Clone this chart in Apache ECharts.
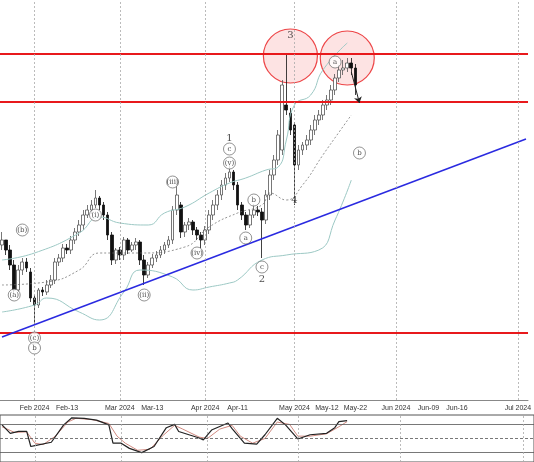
<!DOCTYPE html>
<html>
<head>
<meta charset="utf-8">
<script src="https://cdn.jsdelivr.net/npm/echarts@6/dist/echarts.min.js"></script>
<style>html,body{margin:0;padding:0;background:#fff}#main{width:534px;height:462px}</style>
</head>
<body>
<div id="main"></div>
<script>
// 蜡烛数据 (开/收/低/高)
var opens = [155,160,150,135,110,130,138,128,102,95,110,108,115,120,138,142,152,150,160,168,175,185,190,195,202,195,185,165,140,150,145,160,150,155,158,140,125,135,142,145,150,155,160,190,195,168,175,178,170,165,160,170,185,195,205,215,222,228,215,195,185,175,185,190,188,180,205,225,240,250,295,287,275,235,250,255,260,270,280,285,295,300,310,322,330,332,337,332];
var closes = [160,150,135,110,130,138,132,102,95,110,108,115,120,138,142,152,150,160,168,175,185,190,195,202,195,185,165,140,150,145,160,150,155,158,140,125,135,142,145,150,155,160,190,205,168,175,178,170,165,160,170,185,195,205,215,222,228,215,195,185,175,185,190,188,180,205,225,240,265,315,290,270,235,250,255,260,270,280,285,295,300,310,322,330,332,337,332,315];
var highs = [168,158,155,140,135,142,142,132,105,112,113,120,125,142,146,156,156,164,172,180,190,195,200,210,204,198,188,168,152,153,163,162,158,162,160,145,138,146,149,154,158,164,194,222,198,178,182,180,173,168,174,190,200,210,220,227,235,230,218,198,188,190,196,194,192,210,230,245,270,320,345,292,278,255,258,265,275,285,290,300,305,315,326,335,340,342,342,336];
var lows = [150,145,130,105,108,125,128,98,75,92,104,105,112,116,134,138,146,146,156,164,170,182,186,192,190,180,160,135,136,140,140,146,148,150,135,115,122,132,138,142,146,152,156,185,162,163,170,165,160,152,155,166,180,190,200,210,218,210,190,180,170,172,182,184,142,176,200,220,235,245,285,265,195,230,245,250,255,265,275,280,290,295,305,318,325,328,325,305];

// 布林带
var bandUpper = [[0,140],[8,147],[19,167],[24,183],[29,177],[36,175],[40,187],[45,193],[51,207],[56,217],[60,222],[65,230],[68,233],[70,260],[72,295],[76,305],[79,330],[85,357]];
var bandMid = [[0,115],[11,118],[19,130],[24,147],[34,147],[45,153],[51,173],[58,187],[64,195],[66,207],[70,200],[74,215],[79,245],[83,268],[86,285]];
var bandLower = [[0,88],[8,95],[11,102],[19,88],[24,80],[30,108],[34,130],[42,123],[47,110],[51,113],[56,117],[58,120],[64,140],[70,145],[78,150],[82,180],[86,220]];

// 随机指标
var oscK = [[0,79],[2,61],[4,65],[6,65],[7,33],[8,35],[12,42],[15,79],[17,94],[20,93],[23,89],[26,79],[27,40],[29,40],[31,29],[34,20],[37,33],[40,73],[42,80],[43,65],[48,51],[49,47],[51,68],[55,83],[56,71],[59,40],[62,38],[64,58],[67,93],[69,79],[72,49],[75,58],[79,61],[81,73],[82,86],[84,88]];
var oscD = [[0,75],[3,63],[6,64],[8,40],[10,37],[13,55],[16,85],[18,93],[22,90],[26,82],[28,55],[30,40],[33,25],[36,27],[39,55],[42,78],[44,70],[48,53],[50,50],[53,70],[56,78],[58,55],[61,40],[64,50],[67,85],[70,80],[72,55],[75,55],[79,60],[82,75],[84,86]];

// 水平阻力/支撑线与趋势线
var levels = [346, 298, 67];
var trendLine = [[0,63],[129,261]];

// 波浪标注 [位置, 值, 文本, 是否圆圈]
var waveLabels = [[3,105,'(a)',1],[5,170,'(b)',1],[8,62,'(c)',1],[8,52,'b',1],[23,185,'(i)',1],[35,105,'(ii)',1],[42,218,'(iii)',1],[48,147,'(iv)',1],[56,237,'(v)',1],[56,251,'c',1],[56,262,'1',0],[62,200,'b',1],[60,162,'a',1],[64,133,'c',1],[64,121,'2',0],[71,365,'3',0],[72,200,'4',0],[82,338,'a',1],[88,247,'b',1]];
var circles = [[71,344],[85,342]];
var arrowLine = [[86,328],[88,297]];

// 横轴: 交易日 + 未来日历日
var cats = [];
var d = new Date(2024, 0, 22);
while (cats.length < 88) {
    if (d.getDay() != 0 && d.getDay() != 6) cats.push(d.toDateString());
    d.setDate(d.getDate() + 1);
}
d = new Date(2024, 4, 23);
while (cats.length < 130) { cats.push(d.toDateString()); d.setDate(d.getDate() + 1); }
var tickLabels = {8:'Feb 2024',16:'Feb-13',29:'Mar 2024',37:'Mar-13',50:'Apr 2024',58:'Apr-11',72:'May 2024',80:'May-12',87:'May-22',97:'Jun 2024',105:'Jun-09',112:'Jun-16',127:'Jul 2024'};
var monthIdx = [8,29,50,72,97,127];

var candles = opens.map(function(o, i){ return [o, closes[i], lows[i], highs[i]]; });
var vLines = monthIdx.map(function(i){ return {xAxis: i}; });

var myChart = echarts.init(document.getElementById('main'));
var option = {
    animation: false,
    grid: [
        {left: -3, right: -3, top: 0, height: 400},
        {left: -3, right: -3, top: 415, height: 48, show: true, borderColor: '#555', borderWidth: 1}
    ],
    xAxis: [
        {type: 'category', data: cats, gridIndex: 0,
         axisLine: {lineStyle: {color: '#888'}},
         axisTick: {interval: function(i){ return tickLabels[i] !== undefined; }, inside: true, length: 3, lineStyle: {color: '#666'}},
         axisLabel: {interval: function(i){ return tickLabels[i] !== undefined; }, formatter: function(v, i){ return tickLabels[i] || ''; }, fontSize: 7, color: '#333', margin: 5}},
        {type: 'category', data: cats, gridIndex: 1, axisLine: {show: false}, axisTick: {show: false}, axisLabel: {show: false}}
    ],
    yAxis: [
        {type: 'value', min: 0, max: 400, gridIndex: 0, show: false},
        {type: 'value', min: 0, max: 100, gridIndex: 1, show: false}
    ],
    series: [
        {type: 'candlestick', data: candles, barWidth: 3.2,
         itemStyle: {color: '#fff', color0: '#111', borderColor: '#555', borderColor0: '#111', borderWidth: 0.8},
         markLine: {silent: true, symbol: ['none','none'], label: {show: false}, data: [
            {yAxis: levels[0], lineStyle: {color: '#e8191c', width: 2, type: 'solid'}},
            {yAxis: levels[1], lineStyle: {color: '#e8191c', width: 2, type: 'solid'}},
            {yAxis: levels[2], lineStyle: {color: '#e8191c', width: 2, type: 'solid'}},
            [{coord: trendLine[0]}, {coord: trendLine[1], lineStyle: {color: '#2a2ae0', width: 1.5, type: 'solid'}}],
            [{coord: arrowLine[0]}, {coord: arrowLine[1], symbol: 'arrow', symbolSize: 6, lineStyle: {color: '#222', width: 1, type: 'solid'}}]
         ].concat(vLines.map(function(v){ return {xAxis: v.xAxis, lineStyle: {color: '#aaa', type: [2,2], width: 0.8}}; }))}
        },
        {type: 'line', data: bandUpper, symbol: 'none', smooth: true, lineStyle: {color: '#9cc8c4', width: 1}},
        {type: 'line', data: bandMid, symbol: 'none', smooth: true, lineStyle: {color: '#666', width: 0.7, type: [2,2]}},
        {type: 'line', data: bandLower, symbol: 'none', smooth: true, lineStyle: {color: '#9cc8c4', width: 1}},
        {type: 'scatter', data: circles, symbolSize: 54, z: 1,
         itemStyle: {color: 'rgba(240,60,60,0.18)', borderColor: '#e8191c', borderWidth: 1.2}},
        {type: 'scatter', z: 5,
         data: waveLabels.map(function(w){
            return {value: [w[0], w[1]], symbolSize: w[3] ? 12 : 0,
                    label: {show: true, formatter: w[2], position: 'inside', color: '#222',
                            fontSize: w[3] ? 7 : 10, fontFamily: 'DejaVu Serif'}};
         }),
         itemStyle: {color: '#fff', borderColor: '#555', borderWidth: 0.8}},
        {type: 'line', xAxisIndex: 1, yAxisIndex: 1, data: oscD, symbol: 'none', lineStyle: {color: '#d08a80', width: 1},
         markLine: {silent: true, symbol: ['none','none'], label: {show: false}, data: [
            {yAxis: 80, lineStyle: {color: '#555', type: 'solid', width: 0.8}},
            {yAxis: 50, lineStyle: {color: '#555', type: [3,2], width: 0.8}},
            {yAxis: 20, lineStyle: {color: '#555', type: 'solid', width: 0.8}}
         ].concat(vLines.map(function(v){ return {xAxis: v.xAxis, lineStyle: {color: '#aaa', type: [2,2], width: 0.8}}; }))}},
        {type: 'line', xAxisIndex: 1, yAxisIndex: 1, data: oscK, symbol: 'none', lineStyle: {color: '#222', width: 1.2}}
    ]
};
myChart.setOption(option);
</script>
</body>
</html>
